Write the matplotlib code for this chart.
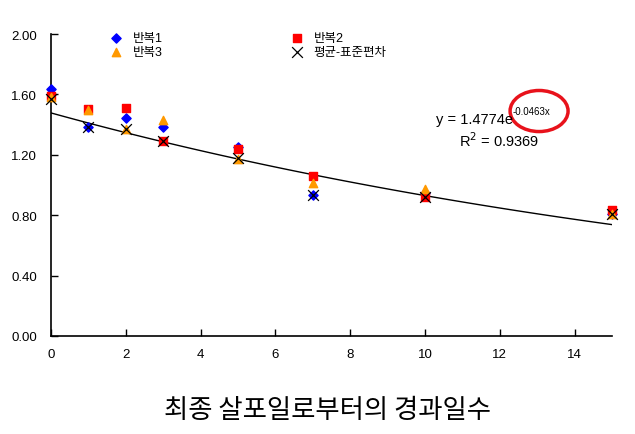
import matplotlib.pyplot as plt
import numpy as np
from matplotlib.patches import Ellipse

plt.rcParams['font.family'] = ['Liberation Sans', 'Noto Sans CJK KR', 'DejaVu Sans']

days = [0, 1, 2, 3, 5, 7, 10, 15]
rep1 = [1.638, 1.385, 1.446, 1.385, 1.25, 0.935, 0.949, 0.81]
rep2 = [1.587, 1.506, 1.51, 1.293, 1.24, 1.06, 0.92, 0.836]
rep3 = [1.585, 1.50, 1.373, 1.433, 1.17, 1.013, 0.975, 0.81]
mean_sd = [1.572, 1.385, 1.373, 1.293, 1.18, 0.935, 0.922, 0.805]

# trendline from the chart: y = 1.4774 e^(-0.0463x)
fit_a = 1.4774
fit_b = -0.0463

fig = plt.figure(figsize=(6.35, 4.35), dpi=100)
ax = fig.add_axes([0.0803, 0.2253, 0.8835, 0.6942])

xs = np.linspace(0, 15, 100)
ax.plot(xs, fit_a * np.exp(fit_b * xs), color='black', lw=1.0, zorder=2)

ax.scatter(days, rep1, marker='D', s=22, color='#0000ff', label='반복1', zorder=3, clip_on=False)
ax.scatter(days, rep2, marker='s', s=36, color='#ff0000', label='반복2', zorder=3, clip_on=False)
ax.scatter(days, rep3, marker='^', s=36, color='#ff9900', label='반복3', zorder=3, clip_on=False)
ax.scatter(days, mean_sd, marker='x', s=60, color='black', linewidths=0.9,
           label='평균-표준편차', zorder=4, clip_on=False)

ax.set_xlim(0, 15)
ax.set_ylim(0, 2.0)
ax.set_xticks([0, 2, 4, 6, 8, 10, 12, 14])
ax.set_yticks([0, 0.4, 0.8, 1.2, 1.6, 2.0])
ax.set_yticklabels(['%.2f' % v for v in [0, 0.4, 0.8, 1.2, 1.6, 2.0]])
ax.tick_params(direction='in', length=5, labelsize=9.5, colors='black', width=1)
ax.tick_params(axis='y', pad=10)
ax.tick_params(axis='x', pad=9)
for side in ['top', 'right']:
    ax.spines[side].set_visible(False)
for side in ['left', 'bottom']:
    ax.spines[side].set_linewidth(1.2)

handles, labels = ax.get_legend_handles_labels()
order = [0, 2, 1, 3]
ax.legend([handles[i] for i in order], [labels[i] for i in order], ncol=2,
          frameon=False, fontsize=9, loc='upper left', bbox_to_anchor=(0.085, 1.043),
          columnspacing=10.3, handletextpad=0.8, labelspacing=0.12, handlelength=1.0,
          scatterpoints=1)

ax.text(10.3, 1.44, 'y = 1.4774e', fontsize=10.5, va='center')
ax.text(12.35, 1.488, '-0.0463x', fontsize=7, va='center')
ax.text(10.9, 1.30, 'R$^2$ = 0.9369', fontsize=10.5, va='center')
ax.add_patch(Ellipse((13.05, 1.49), 1.55, 0.272, fill=False, edgecolor='#e8121b',
                     lw=2.5, clip_on=False))

fig.text(0.515, 0.057, '최종 살포일로부터의 경과일수', ha='center', va='center', fontsize=19,
         family=['Noto Sans CJK KR', 'DejaVu Sans'])

fig.savefig('out.png', dpi=100)
